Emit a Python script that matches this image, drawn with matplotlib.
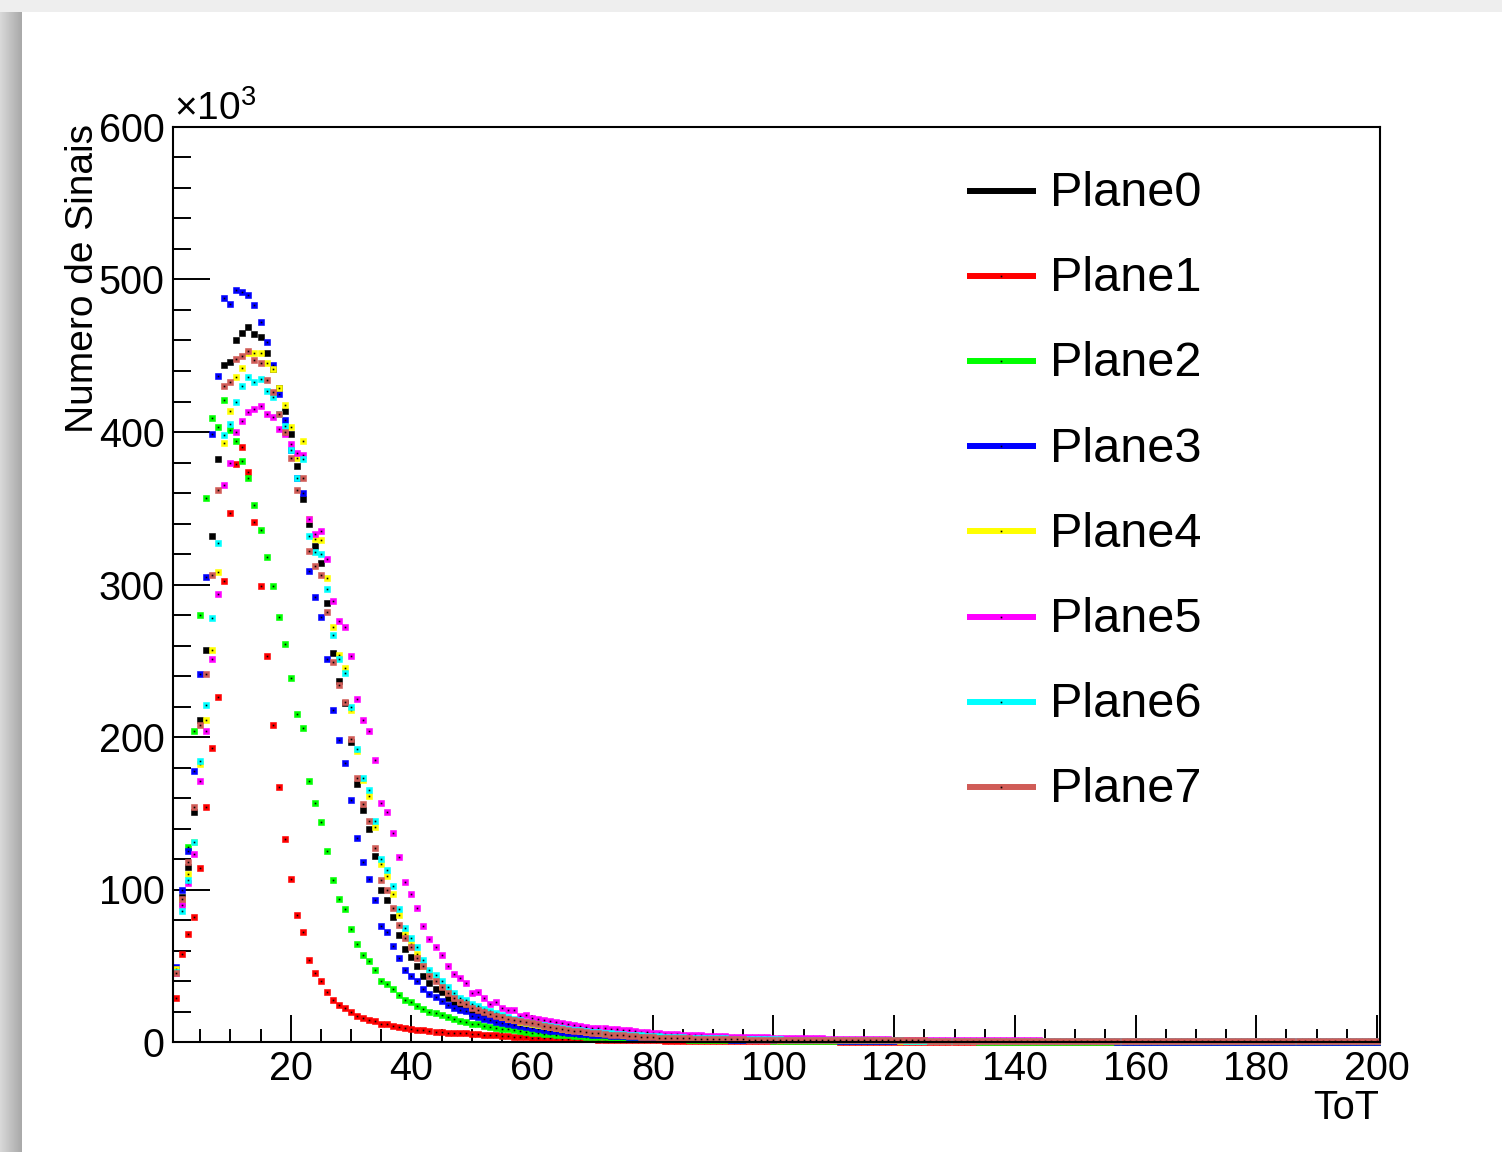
import numpy as np
import matplotlib
matplotlib.use("Agg")
import matplotlib.pyplot as plt
from matplotlib.patches import Rectangle

plt.rcParams['font.family'] = ['Liberation Sans', 'DejaVu Sans']
plt.rcParams['mathtext.fontset'] = 'custom'
plt.rcParams['mathtext.rm'] = 'Liberation Sans'
plt.rcParams['mathtext.it'] = 'Liberation Sans'

# ToT bins (centres) and counts per plane, in thousands
tot = np.arange(1, 201)

plane0 = [
    47, 95, 115, 151, 211, 257, 332, 382, 444, 446,
    460, 465, 469, 464, 462, 452, 441, 429, 414, 399,
    378, 356, 340, 325, 314, 288, 255, 237, 222, 197,
    169, 152, 140, 122, 100, 93, 82, 70, 61, 56,
    50, 43, 39, 35, 32.5, 29, 25, 22.3, 21.2, 19,
    18.0, 16.8, 15.6, 14.6, 13.7, 12.8, 12.0, 11.2, 10.5, 9.9,
    9.3, 8.7, 8.2, 7.7, 7.2, 6.8, 6.4, 6.0, 5.7, 5.4,
    5.1, 4.8, 4.6, 4.3, 4.1, 3.9, 3.7, 3.5, 3.4, 3.2,
    3.1, 2.9, 2.8, 2.7, 2.6, 2.5, 2.4, 2.3, 2.2, 2.1,
    2.0, 1.9, 1.9, 1.8, 1.7, 1.7, 1.6, 1.6, 1.5, 1.5,
    1.4, 1.4, 1.4, 1.3, 1.3, 1.3, 1.2, 1.2, 1.2, 1.1,
    1.1, 1.1, 1.0, 1.0, 1.0, 1.0, 0.9, 0.9, 0.9, 0.9,
    0.8, 0.8, 0.8, 0.8, 0.8, 0.7, 0.7, 0.7, 0.7, 0.7,
    0.7, 0.6, 0.6, 0.6, 0.6, 0.6, 0.6, 0.6, 0.5, 0.5,
    0.5, 0.5, 0.5, 0.5, 0.5, 0.5, 0.5, 0.5, 0.4, 0.4,
    0.4, 0.4, 0.4, 0.4, 0.4, 0.4, 0.4, 0.4, 0.4, 0.4,
    0.4, 0.4, 0.4, 0.4, 0.4, 0.3, 0.3, 0.3, 0.3, 0.3,
    0.3, 0.3, 0.3, 0.3, 0.3, 0.3, 0.3, 0.3, 0.3, 0.3,
    0.3, 0.3, 0.3, 0.3, 0.3, 0.3, 0.3, 0.3, 0.3, 0.3,
    0.3, 0.3, 0.3, 0.3, 0.3, 0.3, 0.3, 0.3, 0.3, 0.3,
]

plane1 = [
    29, 58, 71, 82, 114, 154, 193, 226, 302, 347,
    379, 390, 374, 341, 299, 253, 208, 167, 133, 107,
    83, 72, 54, 45, 40, 33, 27.5, 24, 22.3, 19.9,
    17.2, 15.5, 14.6, 13.5, 11.8, 11.5, 10.6, 9.6, 9.0, 8.6,
    7.9, 7.6, 7.1, 6.8, 6.6, 6.2, 5.9, 5.7, 5.6, 5.2,
    5.0, 4.8, 4.5, 4.3, 4.0, 3.8, 3.5, 3.2, 3.0, 2.8,
    2.7, 2.5, 2.4, 2.3, 2.2, 2.1, 2.0, 1.9, 1.8, 1.7,
    1.6, 1.5, 1.5, 1.4, 1.3, 1.3, 1.2, 1.2, 1.1, 1.0,
    1.0, 0.9, 0.9, 0.9, 0.8, 0.8, 0.8, 0.7, 0.7, 0.7,
    0.7, 0.6, 0.6, 0.6, 0.6, 0.5, 0.5, 0.5, 0.5, 0.5,
    0.5, 0.5, 0.4, 0.4, 0.4, 0.4, 0.4, 0.4, 0.4, 0.4,
    0.3, 0.3, 0.3, 0.3, 0.3, 0.3, 0.3, 0.3, 0.3, 0.3,
    0.3, 0.3, 0.3, 0.3, 0.3, 0.2, 0.2, 0.2, 0.2, 0.2,
    0.2, 0.2, 0.2, 0.2, 0.2, 0.2, 0.2, 0.2, 0.2, 0.2,
    0.2, 0.2, 0.2, 0.2, 0.2, 0.2, 0.2, 0.2, 0.2, 0.2,
    0.2, 0.2, 0.2, 0.2, 0.1, 0.1, 0.1, 0.1, 0.1, 0.1,
    0.1, 0.1, 0.1, 0.1, 0.1, 0.1, 0.1, 0.1, 0.1, 0.1,
    0.1, 0.1, 0.1, 0.1, 0.1, 0.1, 0.1, 0.1, 0.1, 0.1,
    0.1, 0.1, 0.1, 0.1, 0.1, 0.1, 0.1, 0.1, 0.1, 0.1,
    0.1, 0.1, 0.1, 0.1, 0.1, 0.1, 0.1, 0.1, 0.1, 0.1,
]

plane2 = [
    47, 91, 128, 204, 280, 357, 409, 403, 421, 401,
    394, 381, 370, 352, 336, 318, 299, 279, 261, 239,
    215, 206, 171, 157, 144, 125, 106, 94, 87, 74,
    64, 57, 53, 47, 40, 38, 34.5, 30.8, 27.7, 26,
    23.8, 21.8, 19.7, 19, 17.4, 16.1, 15, 14, 13.3, 11.8,
    11.5, 10.8, 10.0, 9.4, 8.8, 8.2, 7.6, 7.1, 6.6, 6.1,
    5.7, 5.4, 5.1, 4.8, 4.5, 4.3, 4.0, 3.8, 3.6, 3.4,
    3.2, 3.0, 2.9, 2.8, 2.6, 2.5, 2.4, 2.3, 2.2, 2.1,
    2.0, 1.9, 1.8, 1.8, 1.7, 1.6, 1.6, 1.5, 1.4, 1.4,
    1.3, 1.3, 1.2, 1.2, 1.1, 1.1, 1.0, 1.0, 1.0, 0.9,
    0.9, 0.9, 0.9, 0.8, 0.8, 0.8, 0.8, 0.7, 0.7, 0.7,
    0.7, 0.7, 0.6, 0.6, 0.6, 0.6, 0.6, 0.5, 0.5, 0.5,
    0.5, 0.5, 0.5, 0.5, 0.4, 0.4, 0.4, 0.4, 0.4, 0.4,
    0.4, 0.4, 0.4, 0.3, 0.3, 0.3, 0.3, 0.3, 0.3, 0.3,
    0.3, 0.3, 0.3, 0.3, 0.3, 0.3, 0.3, 0.3, 0.2, 0.2,
    0.2, 0.2, 0.2, 0.2, 0.2, 0.2, 0.2, 0.2, 0.2, 0.2,
    0.2, 0.2, 0.2, 0.2, 0.2, 0.2, 0.2, 0.2, 0.2, 0.2,
    0.2, 0.2, 0.2, 0.2, 0.2, 0.2, 0.2, 0.2, 0.2, 0.2,
    0.2, 0.2, 0.2, 0.2, 0.2, 0.2, 0.2, 0.2, 0.2, 0.2,
    0.2, 0.2, 0.2, 0.2, 0.2, 0.2, 0.2, 0.2, 0.2, 0.2,
]

plane3 = [
    49, 100, 125, 178, 241, 305, 399, 437, 488, 484,
    493, 492, 490, 483, 472, 459, 444, 425, 408, 388,
    370, 360, 309, 292, 279, 251, 218, 198, 183, 159,
    134, 118, 107, 93, 76, 72, 63, 55, 47, 43,
    40, 35, 31.5, 29.5, 27, 24, 22.3, 21, 20.5, 17.2,
    16.5, 15.2, 14.2, 13.3, 12.5, 11.7, 11.0, 10.3, 9.6, 9.0,
    8.5, 8.0, 7.5, 7.0, 6.6, 6.2, 5.8, 5.5, 5.2, 4.9,
    4.6, 4.3, 4.1, 3.9, 3.7, 3.5, 3.3, 3.1, 3.0, 2.8,
    2.7, 2.6, 2.5, 2.4, 2.3, 2.2, 2.1, 2.0, 1.9, 1.8,
    1.8, 1.7, 1.6, 1.6, 1.5, 1.5, 1.4, 1.4, 1.3, 1.3,
    1.2, 1.2, 1.2, 1.1, 1.1, 1.1, 1.0, 1.0, 1.0, 1.0,
    0.9, 0.9, 0.9, 0.9, 0.8, 0.8, 0.8, 0.8, 0.8, 0.7,
    0.7, 0.7, 0.7, 0.7, 0.7, 0.6, 0.6, 0.6, 0.6, 0.6,
    0.6, 0.6, 0.5, 0.5, 0.5, 0.5, 0.5, 0.5, 0.5, 0.5,
    0.5, 0.4, 0.4, 0.4, 0.4, 0.4, 0.4, 0.4, 0.4, 0.4,
    0.4, 0.4, 0.4, 0.4, 0.4, 0.4, 0.3, 0.3, 0.3, 0.3,
    0.3, 0.3, 0.3, 0.3, 0.3, 0.3, 0.3, 0.3, 0.3, 0.3,
    0.3, 0.3, 0.3, 0.3, 0.3, 0.3, 0.3, 0.3, 0.3, 0.3,
    0.3, 0.3, 0.3, 0.3, 0.3, 0.3, 0.3, 0.3, 0.3, 0.3,
    0.3, 0.3, 0.3, 0.3, 0.3, 0.3, 0.3, 0.3, 0.3, 0.3,
]

plane4 = [
    48, 93, 110, 131, 182, 211, 257, 308, 393, 414,
    436, 442, 452, 452, 452, 445, 441, 429, 418, 403,
    383, 394, 343, 330, 329, 304, 272, 254, 245, 218,
    191, 172, 161, 141, 117, 109, 97, 83, 71, 64,
    58, 50, 45, 41, 37, 33, 30, 27, 25.5, 23,
    22.0, 20.3, 18.9, 17.6, 16.4, 15.3, 14.3, 13.4, 12.6, 11.8,
    11.1, 10.4, 9.8, 9.2, 8.6, 8.1, 7.6, 7.2, 6.8, 6.4,
    6.0, 5.7, 5.4, 5.1, 4.8, 4.6, 4.3, 4.1, 3.9, 3.7,
    3.5, 3.4, 3.2, 3.1, 2.9, 2.8, 2.7, 2.6, 2.5, 2.4,
    2.3, 2.2, 2.1, 2.0, 2.0, 1.9, 1.8, 1.8, 1.7, 1.7,
    1.6, 1.6, 1.5, 1.5, 1.4, 1.4, 1.4, 1.3, 1.3, 1.3,
    1.2, 1.2, 1.2, 1.1, 1.1, 1.1, 1.0, 1.0, 1.0, 1.0,
    0.9, 0.9, 0.9, 0.9, 0.9, 0.8, 0.8, 0.8, 0.8, 0.8,
    0.7, 0.7, 0.7, 0.7, 0.7, 0.7, 0.7, 0.6, 0.6, 0.6,
    0.6, 0.6, 0.6, 0.6, 0.6, 0.5, 0.5, 0.5, 0.5, 0.5,
    0.5, 0.5, 0.5, 0.5, 0.5, 0.5, 0.5, 0.4, 0.4, 0.4,
    0.4, 0.4, 0.4, 0.4, 0.4, 0.4, 0.4, 0.4, 0.4, 0.4,
    0.4, 0.4, 0.4, 0.4, 0.4, 0.4, 0.4, 0.4, 0.4, 0.4,
    0.4, 0.4, 0.4, 0.4, 0.4, 0.4, 0.4, 0.4, 0.4, 0.4,
    0.4, 0.4, 0.4, 0.4, 0.4, 0.4, 0.4, 0.4, 0.4, 0.4,
]

plane5 = [
    45, 90, 104, 123, 171, 204, 251, 294, 365, 380,
    400, 407, 413, 415, 417, 412, 410, 402, 399, 392,
    386, 385, 343, 333, 335, 317, 289, 276, 272, 253,
    225, 211, 204, 185, 157, 151, 137, 121, 105, 97,
    88, 76, 67.5, 62, 57, 50, 44.6, 42, 39, 32,
    33, 29, 25, 26, 22, 21, 20.7, 17.2, 17.5, 16,
    15.2, 14.6, 13.8, 13.1, 12.4, 11.8, 11.2, 10.7, 10.1, 9.5,
    9.2, 8.9, 8.6, 8.3, 8.0, 7.6, 7.2, 6.8, 6.4, 6.0,
    5.7, 5.5, 5.3, 5.1, 4.9, 4.7, 4.5, 4.3, 4.1, 3.9,
    3.8, 3.7, 3.6, 3.5, 3.4, 3.3, 3.2, 3.1, 3.0, 2.9,
    2.8, 2.7, 2.6, 2.6, 2.5, 2.4, 2.3, 2.3, 2.2, 2.1,
    2.1, 2.0, 2.0, 1.9, 1.9, 1.8, 1.8, 1.7, 1.7, 1.6,
    1.6, 1.6, 1.5, 1.5, 1.5, 1.4, 1.4, 1.4, 1.3, 1.3,
    1.3, 1.2, 1.2, 1.2, 1.2, 1.1, 1.1, 1.1, 1.1, 1.0,
    1.0, 1.0, 1.0, 1.0, 0.9, 0.9, 0.9, 0.9, 0.9, 0.9,
    0.8, 0.8, 0.8, 0.8, 0.8, 0.8, 0.8, 0.7, 0.7, 0.7,
    0.7, 0.7, 0.7, 0.7, 0.7, 0.7, 0.6, 0.6, 0.6, 0.6,
    0.6, 0.6, 0.6, 0.6, 0.6, 0.6, 0.6, 0.6, 0.6, 0.6,
    0.6, 0.6, 0.6, 0.6, 0.6, 0.6, 0.6, 0.6, 0.6, 0.6,
    0.6, 0.6, 0.6, 0.6, 0.6, 0.6, 0.6, 0.6, 0.6, 0.6,
]

plane6 = [
    46, 86, 106, 131, 184, 221, 278, 327, 398, 405,
    420, 430, 436, 433, 435, 427, 423, 412, 404, 388,
    370, 382, 332, 321, 320, 297, 267, 251, 242, 220,
    192, 173, 165, 145, 120, 113, 102, 87, 75, 68,
    62, 54, 47, 44, 40, 36, 32, 29, 27.5, 25,
    23.5, 21.8, 20.3, 18.9, 17.6, 16.4, 15.3, 14.3, 13.4, 12.6,
    11.8, 11.1, 10.4, 9.8, 9.2, 8.6, 8.1, 7.6, 7.2, 6.8,
    6.4, 6.0, 5.7, 5.4, 5.1, 4.8, 4.6, 4.3, 4.1, 3.9,
    3.7, 3.5, 3.4, 3.2, 3.1, 2.9, 2.8, 2.7, 2.6, 2.5,
    2.4, 2.3, 2.2, 2.1, 2.1, 2.0, 1.9, 1.9, 1.8, 1.7,
    1.7, 1.6, 1.6, 1.5, 1.5, 1.5, 1.4, 1.4, 1.3, 1.3,
    1.3, 1.2, 1.2, 1.2, 1.1, 1.1, 1.1, 1.0, 1.0, 1.0,
    1.0, 0.9, 0.9, 0.9, 0.9, 0.9, 0.8, 0.8, 0.8, 0.8,
    0.8, 0.7, 0.7, 0.7, 0.7, 0.7, 0.7, 0.6, 0.6, 0.6,
    0.6, 0.6, 0.6, 0.6, 0.6, 0.5, 0.5, 0.5, 0.5, 0.5,
    0.5, 0.5, 0.5, 0.5, 0.5, 0.5, 0.5, 0.4, 0.4, 0.4,
    0.4, 0.4, 0.4, 0.4, 0.4, 0.4, 0.4, 0.4, 0.4, 0.4,
    0.4, 0.4, 0.4, 0.4, 0.4, 0.4, 0.4, 0.4, 0.4, 0.4,
    0.4, 0.4, 0.4, 0.4, 0.4, 0.4, 0.4, 0.4, 0.4, 0.4,
    0.4, 0.4, 0.4, 0.4, 0.4, 0.4, 0.4, 0.4, 0.4, 0.4,
]

plane7 = [
    45, 94, 118, 154, 208, 241, 306, 362, 430, 433,
    448, 450, 453, 447, 445, 434, 426, 412, 400, 383,
    362, 370, 322, 312, 306, 282, 249, 234, 223, 199,
    173, 156, 145, 127, 106, 100, 88, 77, 68, 62,
    55, 50, 43, 40, 36, 32, 29, 26, 25, 22,
    21.0, 19.5, 18.3, 17.2, 16.2, 15.3, 14.5, 13.8, 13.1, 12.5,
    11.6, 10.8, 10.0, 9.3, 8.7, 8.1, 7.5, 7.0, 6.5, 6.0,
    5.6, 5.2, 4.9, 4.6, 4.3, 4.0, 3.8, 3.5, 3.3, 3.1,
    2.9, 2.8, 2.6, 2.5, 2.4, 2.3, 2.2, 2.1, 2.0, 1.9,
    1.9, 1.8, 1.8, 1.7, 1.7, 1.6, 1.6, 1.5, 1.5, 1.5,
    1.4, 1.4, 1.4, 1.4, 1.3, 1.3, 1.3, 1.3, 1.2, 1.2,
    1.2, 1.2, 1.2, 1.1, 1.1, 1.1, 1.1, 1.1, 1.0, 1.0,
    1.0, 1.0, 1.0, 1.0, 1.0, 0.9, 0.9, 0.9, 0.9, 0.9,
    0.9, 0.9, 0.9, 0.9, 0.8, 0.8, 0.8, 0.8, 0.8, 0.8,
    0.8, 0.8, 0.8, 0.8, 0.8, 0.7, 0.7, 0.7, 0.7, 0.7,
    0.7, 0.7, 0.7, 0.7, 0.7, 0.7, 0.7, 0.7, 0.7, 0.7,
    0.7, 0.7, 0.6, 0.6, 0.6, 0.6, 0.6, 0.6, 0.6, 0.6,
    0.6, 0.6, 0.6, 0.6, 0.6, 0.6, 0.6, 0.6, 0.6, 0.6,
    0.6, 0.6, 0.6, 0.6, 0.6, 0.6, 0.6, 0.6, 0.6, 0.6,
    0.6, 0.6, 0.6, 0.6, 0.6, 0.6, 0.6, 0.6, 0.6, 0.6,
]

labels = ["Plane0", "Plane1", "Plane2", "Plane3",
          "Plane4", "Plane5", "Plane6", "Plane7"]
colors = ["#000000", "#ff0000", "#00ff00", "#0000ff",
          "#ffff00", "#ff00ff", "#00ffff", "#d05c57"]
series = [plane0, plane1, plane2, plane3, plane4, plane5, plane6, plane7]

W, H = 1502, 1152
fig = plt.figure(figsize=(W / 100, H / 100), dpi=100)
fig.patch.set_facecolor("#eeeeee")

# white canvas and window shadow on the left
fig.patches.append(Rectangle((22 / W, 0), 1, (H - 12) / H, transform=fig.transFigure,
                             facecolor="white", edgecolor="none", zorder=-10))
sh = fig.add_axes([0, 0, 22 / W, (H - 12) / H], zorder=-5)
sh.imshow(np.linspace(0.85, 0.66, 64)[None, :], cmap="gray", vmin=0, vmax=1,
          aspect="auto", extent=[0, 1, 0, 1])
sh.axis("off")

# axes frame: x 173..1380 px, y 127..1042 px
ax = fig.add_axes([173 / W, (H - 1042) / H, (1380 - 173) / W, (1042 - 127) / H],
                  zorder=1)
ax.set_facecolor("white")

for y, c in zip(series, colors):
    ax.plot(tot, y, ls="none", marker="s", ms=4.4, mfc=c, mec=c, mew=0.4,
            clip_on=False)
    ax.plot(tot, y, ls="none", marker="s", ms=1.2, mfc="black", mec="none",
            clip_on=False)

ax.set_xlim(0.5, 200.5)
ax.set_ylim(0, 600)

ax.set_xticks(np.arange(20, 201, 20))
ax.set_xticks(np.arange(5, 201, 5), minor=True)
ax.set_yticks(np.arange(0, 601, 100))
ax.set_yticks(np.arange(0, 601, 20), minor=True)

ax.tick_params(axis="x", which="major", direction="in", length=19.5, width=1.4,
               labelsize=28.5, pad=6, top=False)
ax.tick_params(axis="x", which="minor", direction="in", length=9.5, width=1.4, top=False)
ax.tick_params(axis="y", which="major", direction="in", length=26.5, width=1.4,
               labelsize=28.5, pad=6, right=False)
ax.tick_params(axis="y", which="minor", direction="in", length=13, width=1.4, right=False)
for s in ax.spines.values():
    s.set_linewidth(1.5)

# axis titles
fig.text(83 / W, (H - 124) / H, "Numero de Sinais", rotation=90, ha="center",
         va="top", fontsize=28)
fig.text(1379 / W, (H - 1108) / H, "ToT", ha="right", va="center", fontsize=28.5)
fig.text(174 / W, (H - 128) / H, r"$\times10^{3}$", ha="left", va="bottom",
         fontsize=28)

# legend
for i, (lab, c) in enumerate(zip(labels, colors)):
    py = 191 + 85.1 * i
    yy = (1042 - py) / 915
    ax.plot([0.6578, 0.7150], [yy, yy], color=c, lw=4.3,
            transform=ax.transAxes, solid_capstyle="butt", clip_on=False)
    ax.plot([0.6864], [yy], ls="none", marker="s", ms=1.2, mfc="black",
            mec="none", transform=ax.transAxes)
    ax.text(0.7266, yy - 0.003, lab, transform=ax.transAxes, ha="left", va="center",
            fontsize=35)

fig.savefig("out.png", dpi=100, facecolor=fig.get_facecolor())
